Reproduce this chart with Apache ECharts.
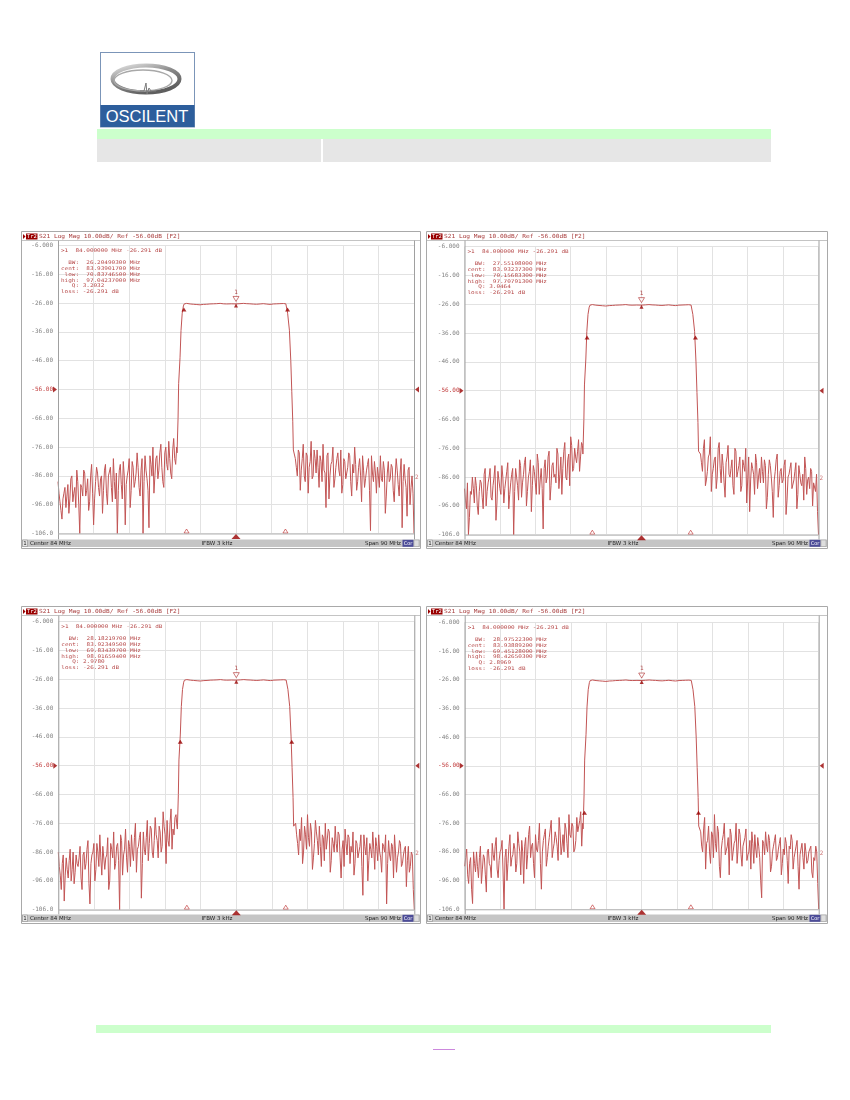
<!DOCTYPE html>
<html>
<head>
<meta charset="utf-8">
<title>OSCILENT filter response</title>
<script src="https://cdn.jsdelivr.net/npm/echarts@6/dist/echarts.min.js"></script>
<style>
body{margin:0;background:#fff;width:850px;height:1100px;position:relative;overflow:hidden;font-family:"Liberation Sans",Arial,sans-serif;}
.abs{position:absolute;}
.panel{position:absolute;}
</style>
</head>
<body>
<svg class="abs" style="left:100px;top:52px" width="95" height="76">
  <defs>
    <linearGradient id="ring" x1="0" y1="0" x2="0.6" y2="1">
      <stop offset="0" stop-color="#e4e4e4"/>
      <stop offset="0.5" stop-color="#8a8a8a"/>
      <stop offset="1" stop-color="#5e5e5e"/>
    </linearGradient>
  </defs>
  <rect x="0.5" y="0.5" width="94" height="74.5" fill="#fff" stroke="#7b95b8"/>
  <ellipse cx="46" cy="27" rx="33.5" ry="13.5" fill="none" stroke="url(#ring)" stroke-width="4"/>
  <ellipse cx="43" cy="28.5" rx="29" ry="10.5" fill="none" stroke="#a8a8a8" stroke-width="1.4"/>
  <polyline points="40,39 44,39 46,31 47,42 49,36 51,39 56,39" fill="none" stroke="#7a7a7a" stroke-width="1"/>
  <rect x="0.5" y="53" width="94" height="22" fill="#2d5e9c"/>
  <text x="47" y="70" text-anchor="middle" fill="#fff" font-size="16.5" font-family="Liberation Sans, Arial, sans-serif">OSCILENT</text>
</svg>
<div class="abs" style="left:97px;top:129px;width:674px;height:10px;background:#ccffcc"></div>
<div class="abs" style="left:97px;top:139px;width:224px;height:23px;background:#e6e6e6"></div>
<div class="abs" style="left:323px;top:139px;width:448px;height:23px;background:#e6e6e6"></div>

<div id="p1" class="panel" style="left:21px;top:231px;width:400px;height:318px"></div>
<div id="p2" class="panel" style="left:426px;top:231px;width:402px;height:318px"></div>
<div id="p3" class="panel" style="left:21px;top:606px;width:400px;height:318px"></div>
<div id="p4" class="panel" style="left:426px;top:606px;width:402px;height:318px"></div>

<div class="abs" style="left:96px;top:1025px;width:675px;height:8px;background:#ccffcc"></div>
<div class="abs" style="left:433px;top:1049px;width:22px;height:1px;background:#cc88dd"></div>

<script>
// sweep: center 84 MHz, span 90 MHz, 10 dB/div, ref -56 dB
var CENTER_MHZ = 84;
var BOTTOM_DB = -106;
var REF_DB = -56;
var yTickLabels = ['-106.0','-96.00','-86.00','-76.00','-66.00','-56.00','-46.00','-36.00','-26.00','-16.00','-6.000'];

// stopband noise: "A" arrays every 0.5 MHz from the start, "B" arrays at the 0.25 MHz in-between points
var NOISE_STEP = 0.5;
var LOW_START = 39;
var HIGH_START = 99;

// filter passband (same filter on all four plots) [MHz, dB]
var passband = [[69.1,-78],[69.35,-66],[69.5,-54],[69.85,-45],[70.1,-35.5],[70.4,-29.5],[70.7,-27],[70.9,-26.3],
  [71.5,-26.1],[72.4,-26.3],[73.2,-26.4],[74.1,-26.5],[74.9,-26.6],[75.8,-26.45],[76.6,-26.4],[77.4,-26.3],
  [78.3,-26.25],[79.1,-26.2],[80,-26.1],[80.8,-26.25],[81.6,-26.3],[82.8,-26.25],[84,-26.29],[85,-26.2],
  [85.9,-26.1],[86.7,-26.2],[87.5,-26.25],[88.4,-26.35],[89.2,-26.4],[90.1,-26.3],[90.9,-26.2],[91.8,-26.35],
  [92.6,-26.45],[93.5,-26.3],[94.3,-26.25],[95.1,-26.2],[96,-26.15],[96.6,-26.25],[97.05,-29.5],[97.5,-35.4],
  [97.85,-46],[98.1,-56.6],[98.35,-67],[98.5,-77]];

var c1Low = [-88,-95,-101,-92,-97,-89,-94,-86,-92,-97,
  -88,-106,-90,-84,-93,-87,-95,-82,-103,-88,
  -85,-93,-86,-91,-82,-96,-86,-90,-80,-94,
  -106,-84,-89,-81,-103,-86,-80,-91,-83,-88,
  -78,-90,-84,-106,-79,-87,-104,-82,-76,-86,
  -79,-84,-75,-88,-78,-82,-74,-85,-77,-80,
  -76];
var c1LowB = [-92,-98,-94,-90,-93,-99,-87,-95,-90,-84,
  -96,-89,-93,-85,-91,-98,-86,-92,-94,-83,
  -90,-87,-99,-84,-92,-86,-83,-95,-88,-85,
  -91,-82,-94,-86,-89,-84,-97,-81,-90,-85,
  -83,-93,-80,-88,-84,-91,-79,-86,-92,-80,
  -87,-78,-83,-90,-76,-84,-80,-87,-73,-82];
var c1High = [-80,-86,-78,-84,-75,-88,-79,-83,-74,-86,
  -80,-77,-90,-81,-75,-85,-79,-94,-82,-76,
  -87,-80,-84,-77,-89,-81,-85,-78,-88,-82,
  -76,-91,-83,-86,-79,-90,-84,-80,-105,-85,
  -81,-92,-86,-79,-88,-84,-93,-81,-87,-83,
  -95,-80,-89,-85,-104,-82,-90,-84,-96,-86,
  -106];
var c1HighB = [-83,-77,-91,-80,-86,-78,-92,-81,-87,-77,
  -85,-83,-79,-88,-84,-97,-78,-86,-81,-90,
  -83,-78,-86,-92,-80,-87,-83,-79,-93,-85,
  -82,-88,-80,-95,-84,-87,-82,-91,-79,-88,
  -85,-83,-90,-87,-81,-99,-85,-88,-82,-91,
  -86,-84,-93,-80,-88,-87,-100,-83,-90,-92];

var c2Low = [-90,-97,-106,-91,-86,-95,-89,-99,-87,-93,
  -85,-96,-88,-83,-94,-86,-101,-84,-90,-82,
  -95,-87,-81,-92,-85,-106,-83,-89,-80,-93,
  -85,-79,-91,-84,-98,-82,-88,-78,-92,-83,
  -104,-80,-86,-77,-89,-81,-85,-76,-90,-79,
  -83,-74,-87,-78,-72,-84,-76,-81,-73,-79,
  -75];
var c2LowB = [-94,-88,-100,-92,-90,-86,-96,-91,-88,-97,
  -83,-91,-86,-93,-89,-82,-95,-87,-92,-86,
  -90,-84,-97,-88,-83,-91,-86,-94,-82,-88,
  -81,-96,-86,-80,-89,-84,-92,-81,-87,-90,
  -83,-88,-79,-94,-82,-86,-88,-78,-85,-92,
  -77,-86,-80,-89,-75,-83,-79,-77,-84,-74];
var c2High = [-78,-84,-73,-87,-79,-72,-85,-80,-90,-76,
  -83,-78,-88,-81,-75,-86,-80,-92,-77,-84,
  -79,-89,-82,-76,-87,-98,-81,-85,-78,-90,
  -83,-79,-88,-82,-93,-80,-86,-100,-84,-78,
  -89,-83,-87,-80,-94,-85,-81,-90,-84,-97,
  -82,-88,-85,-79,-92,-86,-83,-96,-88,-85,
  -106];
var c2HighB = [-81,-76,-89,-84,-78,-91,-83,-79,-86,-74,
  -88,-82,-93,-79,-85,-83,-89,-76,-86,-82,
  -91,-80,-84,-95,-79,-87,-83,-92,-81,-86,
  -88,-84,-80,-97,-85,-82,-91,-87,-80,-93,
  -84,-88,-82,-99,-86,-83,-90,-87,-81,-92,
  -85,-89,-94,-83,-87,-90,-84,-88,-91,-98];

var c3Low = [-86,-94,-90,-103,-88,-95,-85,-92,-97,-87,
  -91,-84,-99,-86,-90,-82,-104,-87,-83,-92,
  -86,-80,-94,-84,-88,-81,-96,-85,-79,-90,
  -83,-106,-82,-87,-78,-93,-84,-80,-89,-76,
  -85,-81,-102,-79,-87,-75,-83,-78,-88,-74,
  -82,-77,-86,-72,-80,-75,-84,-71,-78,-74,
  -77];
var c3LowB = [-91,-99,-87,-94,-92,-89,-96,-86,-93,-90,
  -88,-95,-87,-92,-85,-97,-90,-86,-96,-83,
  -91,-88,-84,-92,-87,-99,-83,-88,-92,-84,
  -89,-80,-94,-85,-88,-82,-91,-86,-81,-93,
  -84,-79,-90,-85,-81,-89,-77,-86,-82,-80,
  -88,-79,-84,-77,-90,-82,-76,-85,-80,-73];
var c3High = [-76,-83,-78,-74,-86,-80,-73,-84,-79,-88,
  -75,-82,-77,-91,-81,-76,-85,-79,-89,-83,
  -77,-86,-80,-95,-82,-78,-87,-81,-84,-79,
  -90,-83,-86,-80,-101,-84,-81,-89,-85,-79,
  -92,-84,-80,-88,-83,-86,-104,-82,-89,-84,
  -80,-93,-86,-83,-90,-85,-98,-84,-91,-87,
  -106];
var c3HighB = [-80,-87,-82,-90,-77,-85,-81,-76,-92,-83,
  -79,-87,-84,-80,-89,-85,-78,-93,-81,-86,
  -83,-79,-88,-85,-91,-83,-80,-90,-86,-94,
  -82,-88,-84,-91,-80,-87,-96,-83,-88,-85,
  -81,-89,-86,-93,-84,-80,-90,-87,-83,-95,
  -86,-88,-82,-91,-87,-84,-89,-93,-86,-99];

var c4Low = [-91,-85,-97,-88,-104,-90,-86,-95,-84,-92,
  -88,-100,-85,-91,-83,-89,-81,-95,-86,-82,
  -106,-85,-90,-80,-88,-83,-93,-79,-86,-82,
  -97,-81,-87,-77,-84,-90,-80,-86,-76,-99,
  -82,-78,-88,-81,-75,-85,-79,-84,-74,-87,
  -80,-76,-83,-73,-81,-77,-85,-74,-79,-72,
  -76];
var c4LowB = [-88,-94,-90,-99,-86,-93,-91,-88,-97,-87,
  -94,-86,-90,-95,-87,-84,-92,-89,-85,-93,
  -88,-96,-84,-91,-87,-85,-90,-83,-94,-86,
  -84,-92,-80,-88,-83,-95,-85,-82,-90,-86,
  -80,-91,-84,-78,-88,-83,-81,-89,-79,-84,
  -86,-78,-88,-80,-76,-86,-82,-79,-75,-84];
var c4High = [-79,-86,-74,-83,-77,-90,-80,-73,-86,-79,
  -95,-82,-76,-87,-81,-78,-89,-83,-76,-85,
  -80,-91,-84,-78,-87,-82,-79,-90,-85,-81,
  -88,-102,-83,-79,-86,-82,-91,-84,-80,-88,
  -83,-94,-85,-81,-89,-84,-80,-92,-86,-82,
  -99,-85,-88,-83,-90,-86,-84,-95,-89,-86,
  -106];
var c4HighB = [-84,-78,-92,-82,-86,-79,-88,-83,-77,-91,
  -85,-80,-87,-84,-94,-80,-86,-82,-90,-78,
  -87,-84,-81,-89,-86,-92,-83,-80,-88,-84,
  -96,-82,-87,-84,-80,-93,-86,-82,-89,-85,
  -81,-90,-87,-83,-97,-85,-82,-88,-84,-91,
  -87,-83,-92,-86,-89,-85,-93,-88,-84,-97];

// markers
var MARKER1 = [84, -26.291];
var stimMarkers = [71.5, 96.5];   // open triangles on the bottom line
var TRACE_LABEL_DB = -86.5;
// [low MHz, high MHz, level dB]
var c1Bw = [70.83746500, 97.04237000, -27.5];
var c2Bw = [70.15683300, 97.70791300, -36.8];
var c3Bw = [69.83439700, 98.01659400, -47];
var c4Bw = [69.45128000, 98.42650300, -71.7];

var markerHead = '>1  84.000000 MHz -26.291 dB';
var c1Text = ['  BW:  26.20490300 MHz','cent:  83.93901700 MHz',' low:  70.83746500 MHz','high:  97.04237000 MHz','   Q: 3.2032','loss: -26.291 dB'];
var c2Text = ['  BW:  27.55108000 MHz','cent:  83.93237300 MHz',' low:  70.15683300 MHz','high:  97.70791300 MHz','   Q: 3.0464','loss: -26.291 dB'];
var c3Text = ['  BW:  28.18219700 MHz','cent:  83.92349500 MHz',' low:  69.83439700 MHz','high:  98.01659400 MHz','   Q: 2.9780','loss: -26.291 dB'];
var c4Text = ['  BW:  28.97522300 MHz','cent:  83.93889200 MHz',' low:  69.45128000 MHz','high:  98.42650300 MHz','   Q: 2.8969','loss: -26.291 dB'];

var TITLE = 'S21 Log Mag 10.00dB/ Ref -56.00dB [F2]';
var MONO = '"DejaVu Sans Mono", monospace';
var SANS = '"DejaVu Sans", sans-serif';
var TRACE_COLOR = '#c25555';
var DARK = '#990000';

function pt(f, db) {
	return [f - CENTER_MHZ, db - BOTTOM_DB];
}

function pushNoise(d, start, a, b) {
	for (var i = 0; i < a.length; i++) {
		d.push(pt(start + i * NOISE_STEP, a[i]));
		if (i < b.length) d.push(pt(start + (i + 0.5) * NOISE_STEP, b[i]));
	}
}

function buildTrace(low, lowB, high, highB) {
	var d = [];
	pushNoise(d, LOW_START, low, lowB);
	for (var p = 0; p < passband.length; p++) d.push(pt(passband[p][0], passband[p][1]));
	pushNoise(d, HIGH_START, high, highB);
	return d;
}

function txt(x, y, s, size, color, align, font, sy) {
	return {type: 'text', x: x, y: y, scaleY: sy || 1, silent: true, z: 20,
		style: {text: s, fontSize: size, fontFamily: font || MONO, fill: color, align: align || 'left', verticalAlign: 'middle'}};
}

function makePanel(id, grid, tr, bw, lines) {
	var dom = document.getElementById(id);
	var W = dom.offsetWidth, H = dom.offsetHeight;
	var gL = grid[0], gT = grid[1], gW = grid[2], gH = grid[3];
	var sy = H - 9.5;
	var g = [];

	//外框、标题栏
	g.push({type: 'rect', shape: {x: 0.5, y: 0.5, width: W - 1, height: H - 1}, style: {fill: 'transparent', stroke: '#a9a9a9', lineWidth: 1}, z: 10});
	g.push({type: 'polygon', shape: {points: [[2, 3], [2, 8], [4.5, 5.5]]}, style: {fill: DARK}, z: 10});
	g.push({type: 'rect', shape: {x: 5, y: 2.5, width: 11.5, height: 6}, style: {fill: DARK}, z: 10});
	g.push(txt(10.8, 5.7, 'Tr2', 5.5, '#fff', 'center'));
	g.push(txt(18, 5.7, TITLE, 6.2, '#a83c3c', 'left', MONO, 0.9));
	g.push({type: 'line', shape: {x1: 1, y1: 9.5, x2: W - 1, y2: 9.5}, style: {stroke: '#c4c4c4', lineWidth: 1}, z: 10});
	g.push({type: 'line', shape: {x1: gL + 0.5, y1: 9.5, x2: gL + 0.5, y2: sy}, style: {stroke: '#a0a0a0', lineWidth: 1}, z: 10});
	g.push({type: 'line', shape: {x1: gL + gW + 0.5, y1: 9.5, x2: gL + gW + 0.5, y2: sy}, style: {stroke: '#a0a0a0', lineWidth: 1}, z: 10});
	g.push({type: 'line', shape: {x1: gL, y1: gT + gH + 0.5, x2: gL + gW, y2: gT + gH + 0.5}, style: {stroke: '#b4b4b4', lineWidth: 1}, z: 10});

	//标记文字
	g.push(txt(gL + 3, gT + 5.5, markerHead, 6, '#b54545', 'left', MONO, 0.82));
	for (var i = 0; i < lines.length; i++) {
		g.push(txt(gL + 3, gT + 17.5 + i * 5.75, lines[i], 6, '#b54545', 'left', MONO, 0.82));
	}

	//状态栏
	g.push({type: 'rect', shape: {x: 1, y: sy, width: W - 2, height: 7.5}, style: {fill: '#c5c5c5'}, z: 10});
	g.push({type: 'rect', shape: {x: 1.5, y: sy + 0.5, width: 5, height: 6.5}, style: {fill: '#e6e6e6', stroke: '#808080', lineWidth: 0.5}, z: 11});
	g.push(txt(4, sy + 3.9, '1', 5.5, '#222', 'center', SANS));
	g.push(txt(9, sy + 3.9, 'Center 84 MHz', 5.5, '#222', 'left', SANS));
	g.push(txt(W / 2 - 4, sy + 3.9, 'IFBW 3 kHz', 5.5, '#222', 'center', SANS));
	g.push(txt(W - 20, sy + 3.9, 'Span 90 MHz', 5.5, '#222', 'right', SANS));
	g.push({type: 'rect', shape: {x: W - 18.5, y: sy + 0.3, width: 11, height: 7}, style: {fill: '#4c4c98'}, z: 11});
	g.push(txt(W - 13, sy + 3.9, 'Cor', 5, '#fff', 'center', SANS));
	g.push({type: 'rect', shape: {x: W - 7, y: sy + 0.5, width: 5, height: 6.5}, style: {fill: '#dedede', stroke: '#9a9a9a', lineWidth: 0.5}, z: 11});

	var chart = echarts.init(dom);
	chart.setOption({
		animation: false,
		graphic: g,
		grid: {left: gL, top: gT, width: gW, height: gH},
		xAxis: {
			type: 'value', min: -45, max: 45, interval: 9,
			axisLine: {show: false}, axisTick: {show: false}, axisLabel: {show: false},
			splitLine: {lineStyle: {color: '#e2e2e2', width: 1}}
		},
		yAxis: {
			type: 'value', min: 0, max: 100, interval: 10,
			axisLine: {show: false}, axisTick: {show: false},
			axisLabel: {
				margin: 5, fontSize: 6, fontFamily: MONO,
				color: function(v) { return v == REF_DB - BOTTOM_DB ? '#c03a3a' : '#808080'; },
				formatter: function(v) { return yTickLabels[Math.round(v / 10)]; }
			},
			splitLine: {lineStyle: {color: '#e2e2e2', width: 1}}
		},
		series: [
			{
				type: 'line', data: tr, showSymbol: false, silent: true,
				lineStyle: {color: TRACE_COLOR, width: 1}, z: 3
			},
			{	// BW 低/高标记
				type: 'scatter', data: [pt(bw[0], bw[2]), pt(bw[1], bw[2])], clip: false, silent: true,
				symbol: 'triangle', symbolSize: [5, 4], symbolOffset: [0, 2], itemStyle: {color: DARK}, z: 6
			},
			{	// 标记1
				type: 'scatter', data: [pt(MARKER1[0], MARKER1[1])], clip: false, silent: true,
				symbol: 'triangle', symbolRotate: 180, symbolSize: [6, 5], symbolOffset: [0, -5],
				itemStyle: {color: '#fff', borderColor: '#b03030', borderWidth: 0.8},
				label: {show: true, formatter: '1', position: 'top', distance: 1, fontSize: 6, fontFamily: MONO, color: '#a02020'},
				z: 6
			},
			{
				type: 'scatter', data: [pt(MARKER1[0], MARKER1[1])], clip: false, silent: true,
				symbol: 'triangle', symbolSize: [4, 4], symbolOffset: [0, 1.5], itemStyle: {color: DARK}, z: 6
			},
			{	// 底部刺激标记
				type: 'scatter', data: stimMarkers.map(function(f) { return pt(f, BOTTOM_DB); }), clip: false, silent: true,
				symbol: 'triangle', symbolSize: [5, 4], symbolOffset: [0, -2.5],
				itemStyle: {color: '#fff', borderColor: '#c03030', borderWidth: 0.8}, z: 6
			},
			{
				type: 'scatter', data: [pt(MARKER1[0], BOTTOM_DB)], clip: false, silent: true,
				symbol: 'triangle', symbolSize: [9, 5], symbolOffset: [0, 3], itemStyle: {color: DARK}, z: 12
			},
			{	// 参考电平
				type: 'scatter', data: [pt(LOW_START, REF_DB)], clip: false, silent: true,
				symbol: 'triangle', symbolRotate: -90, symbolSize: [6, 4], symbolOffset: [-3, 0], itemStyle: {color: DARK}, z: 12
			},
			{
				type: 'scatter', data: [pt(CENTER_MHZ + 45, REF_DB)], clip: false, silent: true,
				symbol: 'triangle', symbolRotate: 90, symbolSize: [6, 4], symbolOffset: [3, 0], itemStyle: {color: DARK}, z: 12
			},
			{
				type: 'scatter', data: [pt(CENTER_MHZ + 45, TRACE_LABEL_DB)], clip: false, silent: true,
				symbolSize: 0,
				label: {show: true, formatter: '2', position: 'right', distance: 1, fontSize: 6, fontFamily: MONO, color: '#c05050'}
			}
		]
	});
	return chart;
}

makePanel('p1', [37, 14.5, 356, 288], buildTrace(c1Low, c1LowB, c1High, c1HighB), c1Bw, c1Text);
makePanel('p2', [38.5, 15.7, 354, 288], buildTrace(c2Low, c2LowB, c2High, c2HighB), c2Bw, c2Text);
makePanel('p3', [37.3, 15.7, 356, 288], buildTrace(c3Low, c3LowB, c3High, c3HighB), c3Bw, c3Text);
makePanel('p4', [38.7, 16.3, 354, 287], buildTrace(c4Low, c4LowB, c4High, c4HighB), c4Bw, c4Text);
</script>
</body>
</html>
